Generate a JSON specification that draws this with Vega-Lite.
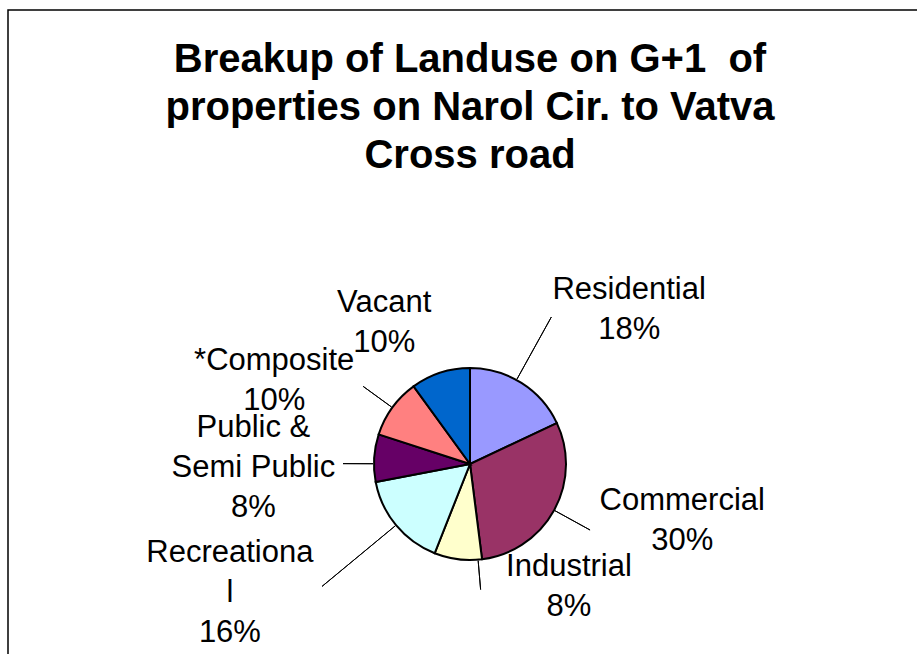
{
  "$schema": "https://vega.github.io/schema/vega-lite/v6.json",
  "width": 924,
  "height": 908,
  "autosize": "none",
  "padding": {"left": 8, "top": 10, "right": -15, "bottom": -264},
  "background": "white",
  "view": {"stroke": "black", "strokeWidth": 1.5, "fill": "white"},
  "title": {
    "text": ["Breakup of Landuse on G+1\u00a0 of", "properties on Narol Cir. to Vatva", "Cross road"],
    "font": "Liberation Sans",
    "fontSize": 40,
    "fontWeight": "bold",
    "lineHeight": 48,
    "color": "black",
    "anchor": "middle",
    "offset": -166
  },
  "data": {
    "values": [
      {"category": "Residential", "label": "Residential", "value": 18},
      {"category": "Commercial", "label": "Commercial", "value": 30},
      {"category": "Industrial", "label": "Industrial", "value": 8},
      {"category": "Recreational", "label": "Recreationa\nl", "value": 16},
      {"category": "Public & Semi Public", "label": "Public &\nSemi Public", "value": 8},
      {"category": "*Composite", "label": "*Composite", "value": 10},
      {"category": "Vacant", "label": "Vacant", "value": 10}
    ]
  },
  "transform": [
    {"window": [{"op": "sum", "field": "value", "as": "cum"}]},
    {"calculate": "datum.cum - datum.value", "as": "start"},
    {"calculate": "datum.cum - datum.value / 2", "as": "mid"},
    {"calculate": "datum.label + '\\n' + datum.value + '%'", "as": "labelText"}
  ],
  "layer": [
    {
      "mark": {"type": "arc", "radius": 96, "stroke": "black", "strokeWidth": 2},
      "encoding": {
        "theta": {"field": "start", "type": "quantitative", "scale": {"domain": [0, 100]}},
        "theta2": {"field": "cum"},
        "color": {
          "field": "category",
          "type": "nominal",
          "scale": {
            "domain": ["Residential", "Commercial", "Industrial", "Recreational", "Public & Semi Public", "*Composite", "Vacant"],
            "range": ["#9999FF", "#993366", "#FFFFCC", "#CCFFFF", "#660066", "#FF8080", "#0066CC"]
          },
          "legend": null
        }
      }
    },
    {
      "transform": [{"filter": "datum.category !== 'Vacant'"}],
      "mark": {
        "type": "arc",
        "radius": {"expr": "datum.category==='Residential'?168:datum.category==='Commercial'?137:datum.category==='Industrial'?126:datum.category==='Recreational'?192:datum.category==='Public & Semi Public'?127:132"},
        "radius2": 97,
        "thetaOffset": {"expr": "datum.category==='Industrial'?-0.21:(datum.category==='Residential'||datum.category==='Public & Semi Public')?-0.06:0"},
        "theta2Offset": {"expr": "datum.category==='Industrial'?-0.21:(datum.category==='Residential'||datum.category==='Public & Semi Public')?-0.06:0"},
        "stroke": "black",
        "strokeWidth": 1,
        "fillOpacity": 0
      },
      "encoding": {
        "theta": {"field": "mid", "type": "quantitative", "scale": {"domain": [0, 100]}},
        "theta2": {"field": "mid"}
      }
    },
    {
      "mark": {
        "type": "text",
        "radius": 200,
        "font": "Liberation Sans",
        "fontSize": 31,
        "lineBreak": "\n",
        "lineHeight": 40,
        "align": "center",
        "baseline": "middle",
        "color": "black",
        "dx": {"expr": "datum.category==='Residential'?52:datum.category==='Commercial'?37:datum.category==='Industrial'?124:datum.category==='Recreational'?-86:datum.category==='Public & Semi Public'?-17:datum.category==='*Composite'?-34:-24"},
        "dy": {"expr": "datum.category==='Residential'?-5:datum.category==='Commercial'?-59:datum.category==='Industrial'?-95:datum.category==='Recreational'?-38:datum.category==='Public & Semi Public'?-23:datum.category==='*Composite'?15:29"}
      },
      "encoding": {
        "theta": {"field": "mid", "type": "quantitative", "scale": {"domain": [0, 100]}},
        "text": {"field": "labelText"}
      }
    }
  ]
}
